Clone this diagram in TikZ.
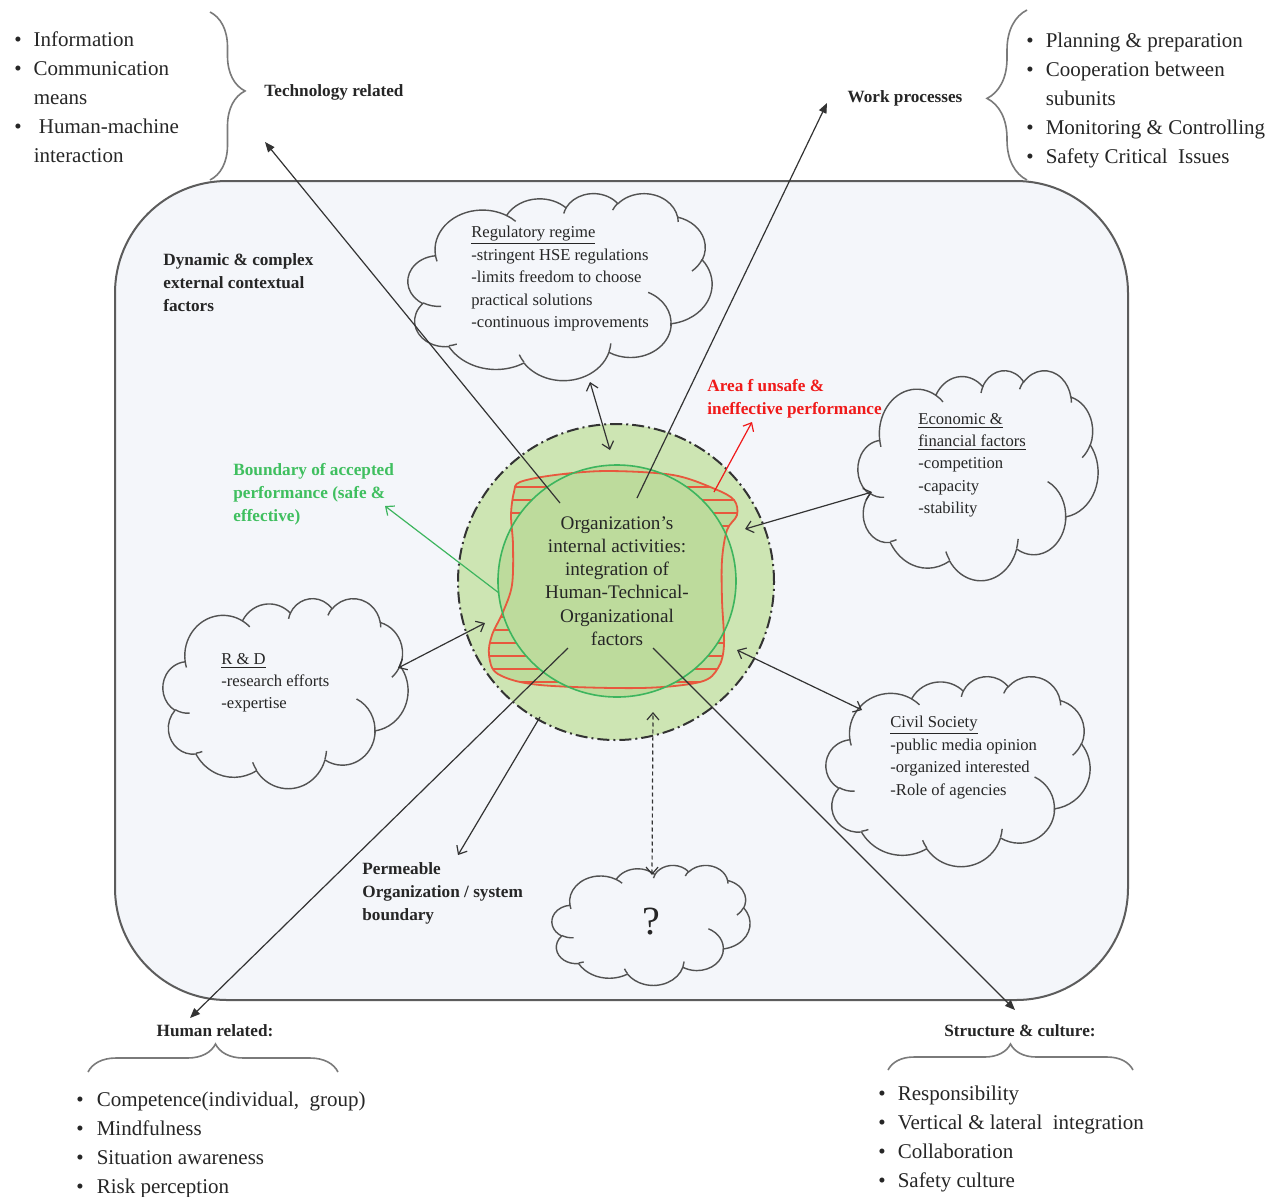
\documentclass[tikz,border=0pt]{standalone}
\usepackage{fontspec}
\setmainfont{Liberation Serif}
\usetikzlibrary{arrows.meta,decorations.pathreplacing}

\definecolor{bgbox}{HTML}{F4F6FA}
\definecolor{ringfill}{HTML}{CDE5B3}
\definecolor{corefill}{HTML}{BDDB9C}
\definecolor{redline}{HTML}{E8583E}
\definecolor{grnline}{HTML}{3DB55E}
\definecolor{grntext}{HTML}{3FBF5F}
\definecolor{redtext}{HTML}{F01A1A}
\definecolor{ink}{HTML}{333333}
\definecolor{bracegray}{HTML}{7A7A7A}

% Word-style cloud outline in a 0..100 frame
\newcommand\cldmain{}
\newcommand\cldinner{}
\newcommand\mkcldarc[4]{%
  \pgfmathsetmacro\cldta{atan2((#1)*sin(#3),(#2)*cos(#3))}%
  \pgfmathsetmacro\cldtb{atan2((#1)*sin((#3)+(#4)),(#2)*cos((#3)+(#4)))}%
  \pgfmathsetmacro\cldtd{mod((\cldtb)-(\cldta)+720,360)}%
  \xdef\cldmain{\cldmain arc[start angle=\cldta, delta angle=\cldtd, x radius=#1, y radius=#2]}}
\newcommand\mkcldinner[6]{%
  \pgfmathsetmacro\cldta{atan2((#3)*sin(#5),(#4)*cos(#5))}%
  \pgfmathsetmacro\cldtb{atan2((#3)*sin((#5)+(#6)),(#4)*cos((#5)+(#6)))}%
  \pgfmathsetmacro\cldtd{mod((\cldtb)-(\cldta)+720,360)}%
  \xdef\cldinner{\cldinner (#1,#2) arc[start angle=\cldta, delta angle=\cldtd, x radius=#3, y radius=#4]}}
\mkcldarc{15.632}{21.273}{-190.4875}{123.7805}
\mkcldarc{12.345}{16.822}{-144.1024}{89.9452}
\mkcldarc{10.104}{13.762}{-145.8079}{99.7230}
\mkcldarc{11.243}{15.266}{-130.9861}{117.2417}
\mkcldarc{12.345}{16.836}{-78.7089}{109.0269}
\mkcldarc{15.683}{21.343}{-46.2673}{130.2690}
\mkcldarc{13.391}{18.211}{0.6250}{114.0333}
\mkcldarc{15.630}{21.331}{22.4516}{115.1726}
\mkcldarc{17.870}{24.405}{66.2426}{75.7110}
\mkcldarc{10.093}{13.699}{-274.9421}{146.7356}
\mkcldarc{10.058}{13.762}{-246.8285}{152.5189}
\mkcldinner{10.863}{60.595}{10.058}{13.762}{86.7420}{26.4295}
\mkcldinner{16.037}{80.785}{10.093}{13.699}{73.6105}{11.4475}
\mkcldinner{38.144}{90.486}{15.630}{21.331}{137.6242}{14.0811}
\mkcldinner{66.729}{80.442}{15.630}{21.331}{6.4533}{15.9984}
\mkcldinner{79.002}{53.134}{13.391}{18.211}{-70.2924}{78.1064}
\mkcldinner{96.755}{35.542}{12.345}{16.836}{30.3180}{27.7515}
\mkcldinner{88.713}{12.560}{11.243}{15.266}{-13.7443}{14.8589}
\mkcldinner{67.310}{9.148}{11.243}{15.266}{-149.1815}{18.1954}
\mkcldinner{51.252}{10.926}{10.104}{13.762}{-163.4943}{17.6864}
\mkcldinner{32.407}{12.019}{15.632}{21.273}{-66.7070}{12.3194}
\mkcldinner{9.553}{36.549}{15.632}{21.273}{157.6544}{11.8582}

\begin{document}
\begin{tikzpicture}[x=0.5pt,y=-0.5pt,
  conn/.style={draw=ink, line width=0.6pt},
  outarrow/.style={conn,-{Triangle[length=5pt,width=4pt]}},
  dblarrow/.style={conn,{Straight Barb[length=3.5pt,width=6pt]}-{Straight Barb[length=3.5pt,width=6pt]}},
  cloudline/.style={draw=ink!85, line width=0.7pt, line join=round},
  wordcloud/.pic={
    \draw[cloudline, fill=bgbox] (9.028,33.264) \cldmain -- cycle;
    \draw[cloudline] \cldinner;
  },
  cloudtext/.style={anchor=base west, font=\fontsize{8.3}{11.2}\selectfont, inner sep=0pt, text=black!85},
  boldlabel/.style={anchor=base west, font=\bfseries\fontsize{8.6}{11.7}\selectfont, inner sep=0pt, text=black!85},
  listtext/.style={anchor=base west, font=\fontsize{10.5}{14.5}\selectfont, inner sep=0pt, text=black!85},
  bracedeco/.style={draw=bracegray, line width=0.8pt, decorate},
]
\useasboundingbox (0,0) rectangle (1273,1196);
\fill[white] (0,0) rectangle (1273,1196);

% environment box
\node[draw=ink!80, line width=1pt, fill=bgbox, rounded corners=56pt,
      minimum width=506.5pt, minimum height=409.5pt, inner sep=0pt] (env) at (621.5,590.5) {};

% clouds (frame top-left corner, scaled from a 0..100 frame)
\pic[xscale=3.04, yscale=1.87] at (408,193) {wordcloud};
\pic[xscale=2.40, yscale=2.10] at (858,370) {wordcloud};
\pic[xscale=2.45, yscale=1.90] at (163,598) {wordcloud};
\pic[xscale=2.64, yscale=1.90] at (826,676) {wordcloud};
\pic[xscale=1.98, yscale=1.20] at (552,865) {wordcloud};
\node[font=\fontsize{20}{24}\selectfont, inner sep=0pt, text=black!85] (unk) at (651,922) {?};

% cloud texts
\node[cloudtext] (regtxt) at (471,237) {\begin{tabular}[t]{@{}l@{}}\underline{Regulatory regime}\\-stringent HSE regulations\\-limits freedom to choose\\practical solutions\\-continuous improvements\end{tabular}};
\node[cloudtext] (ecotxt) at (918,424) {\begin{tabular}[t]{@{}l@{}}\underline{Economic \&}\\\underline{financial factors}\\-competition\\-capacity\\-stability\end{tabular}};
\node[cloudtext] (rndtxt) at (221,664) {\begin{tabular}[t]{@{}l@{}}\underline{R \& D}\\-research efforts\\-expertise\end{tabular}};
\node[cloudtext] (civtxt) at (890,727) {\begin{tabular}[t]{@{}l@{}}\underline{Civil Society}\\-public media opinion\\-organized interested\\-Role of agencies\end{tabular}};

% central organisation
\node[circle, draw=ink, line width=1pt, dash pattern=on 6pt off 2pt on 1pt off 2pt, fill=ringfill,
      minimum size=158pt, inner sep=0pt] (org) at (616,582) {};
\fill[corefill] plot[smooth cycle, tension=0.55] coordinates {(520,482) (555,475) (607,471) (673,475) (715,489) (734,500) (737,515) (727,530) (722,560) (722,600) (724,645) (718,668) (700,682) (640,688) (540,685) (498,674) (489,655) (492,635) (503,612) (512,585) (513,545) (511,515) (514,492)};
\fill[corefill] (617,581) ellipse [x radius=119, y radius=116];
\begin{scope}
  \clip plot[smooth cycle, tension=0.55] coordinates {(520,482) (555,475) (607,471) (673,475) (715,489) (734,500) (737,515) (727,530) (722,560) (722,600) (724,645) (718,668) (700,682) (640,688) (540,685) (498,674) (489,655) (492,635) (503,612) (512,585) (513,545) (511,515) (514,492)};
  \begin{scope}[even odd rule]
    \clip (0,0) rectangle (1273,1196) (617,581) ellipse [x radius=119, y radius=116];
    \foreach \yy in {474,487,...,700} \draw[redline, line width=0.6pt] (470,\yy) -- (770,\yy);
  \end{scope}
\end{scope}
\draw[redline, line width=0.9pt] plot[smooth cycle, tension=0.55] coordinates {(520,482) (555,475) (607,471) (673,475) (715,489) (734,500) (737,515) (727,530) (722,560) (722,600) (724,645) (718,668) (700,682) (640,688) (540,685) (498,674) (489,655) (492,635) (503,612) (512,585) (513,545) (511,515) (514,492)};
\draw[grnline, line width=0.8pt] (617,581) ellipse [x radius=119, y radius=116];

\node[align=center, font=\fontsize{9.6}{11.6}\selectfont, inner sep=0pt, text=black!85] (orgtxt) at (617,581)
  {Organization's\\internal activities:\\integration of\\Human-Technical-\\Organizational\\factors};

% labels
\node[boldlabel, anchor=base] (techlbl) at (334,96) {Technology related};
\node[boldlabel, anchor=base] (worklbl) at (905,102) {Work processes};
\node[boldlabel] (dynlbl) at (163,265) {\begin{tabular}[t]{@{}l@{}}Dynamic \& complex\\external contextual\\factors\end{tabular}};
\node[boldlabel, text=redtext] (redlbl) at (707,391) {\begin{tabular}[t]{@{}l@{}}Area f unsafe \&\\ineffective performance\end{tabular}};
\node[boldlabel, text=grntext] (grnlbl) at (233,475) {\begin{tabular}[t]{@{}l@{}}Boundary of accepted\\performance (safe \&\\effective)\end{tabular}};
\node[boldlabel] (permlbl) at (362,874) {\begin{tabular}[t]{@{}l@{}}Permeable\\Organization / system\\boundary\end{tabular}};
\node[boldlabel, anchor=base] (humlbl) at (215,1036) {Human related:};
\node[boldlabel, anchor=base] (strlbl) at (1020,1036) {Structure \& culture:};

% lists
\node[listtext] (techlist) at (14,46) {\begin{tabular}[t]{@{}l@{\hspace{6pt}}l@{}}
\textbullet & Information\\
\textbullet & Communication\\
 & means\\
\textbullet & \ Human-machine\\
 & interaction\end{tabular}};
\node[listtext] (worklist) at (1026,47) {\begin{tabular}[t]{@{}l@{\hspace{6pt}}l@{}}
\textbullet & Planning \& preparation\\
\textbullet & Cooperation between\\
 & subunits\\
\textbullet & Monitoring \& Controlling\\
\textbullet & Safety Critical\ \ Issues\end{tabular}};
\node[listtext] (humlist) at (76,1106) {\begin{tabular}[t]{@{}l@{\hspace{6.5pt}}l@{}}
\textbullet & Competence(individual,\ \ group)\\
\textbullet & Mindfulness\\
\textbullet & Situation awareness\\
\textbullet & Risk perception\end{tabular}};
\node[listtext] (strlist) at (878,1100) {\begin{tabular}[t]{@{}l@{\hspace{6pt}}l@{}}
\textbullet & Responsibility\\
\textbullet & Vertical \& lateral\ \ integration\\
\textbullet & Collaboration\\
\textbullet & Safety culture\end{tabular}};

% braces
\draw[bracedeco, decoration={brace, amplitude=17.5pt, aspect=0.47}] (210,12) -- (210,180);
\draw[bracedeco, decoration={brace, amplitude=20pt, aspect=0.48}] (1027,180) -- (1027,10);
\draw[bracedeco, decoration={brace, amplitude=14pt, aspect=0.51}] (88,1072) -- (338,1072);
\draw[bracedeco, decoration={brace, amplitude=13pt, aspect=0.5}] (888,1070) -- (1133,1070);

% named end points
\coordinate (techS) at (560,503);
\coordinate (techE) at (265,142);
\coordinate (workS) at (637,498);
\coordinate (workE) at (827,103);
\coordinate (humS) at (568,648);
\coordinate (humE) at (190,1018);
\coordinate (strS) at (653,648);
\coordinate (strE) at (1015,1010);
\coordinate (regOut) at (590,382);
\coordinate (regIn) at (610,450);
\coordinate (ecoOut) at (872,492);
\coordinate (ecoIn) at (745,529);
\coordinate (rndOut) at (398,668);
\coordinate (rndIn) at (485,623);
\coordinate (civOut) at (862,710);
\coordinate (civIn) at (737,650);
\coordinate (unkOut) at (652,875);
\coordinate (unkIn) at (653,712);
\coordinate (permS) at (540,717);
\coordinate (permE) at (458,855);
\coordinate (redS) at (714,492);
\coordinate (redE) at (752,422);
\coordinate (grnS) at (499,593);
\coordinate (grnE) at (385,506);

% connectors
\draw[outarrow] (techS) -- (techE);
\draw[outarrow] (workS) -- (workE);
\draw[outarrow] (humS) -- (humE);
\draw[outarrow] (strS) -- (strE);
\draw[dblarrow] (regOut) -- (regIn);
\draw[dblarrow] (ecoOut) -- (ecoIn);
\draw[dblarrow] (rndOut) -- (rndIn);
\draw[dblarrow] (civOut) -- (civIn);
\draw[dblarrow, dash pattern=on 2pt off 1.5pt] (unkOut) -- (unkIn);
\draw[conn, -{Straight Barb[length=3.5pt,width=6pt]}] (permS) -- (permE);
\draw[draw=redtext, line width=0.6pt, -{Straight Barb[length=3.5pt,width=6pt]}] (redS) -- (redE);
\draw[draw=grnline, line width=0.6pt, -{Straight Barb[length=3.5pt,width=6pt]}] (grnS) -- (grnE);
\end{tikzpicture}
\end{document}
